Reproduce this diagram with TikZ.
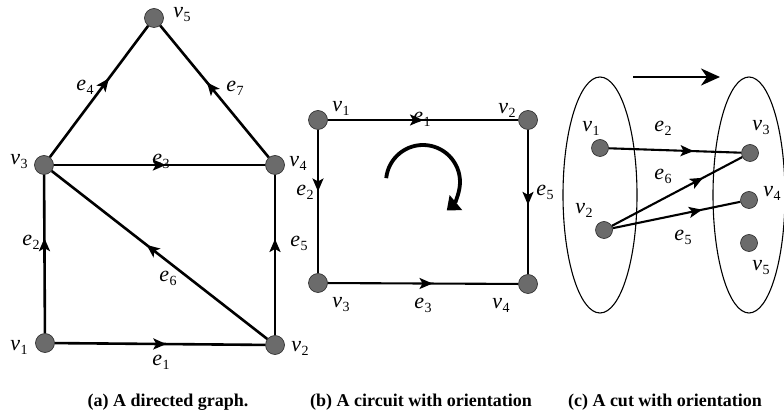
\documentclass[tikz,border=0pt]{standalone}
\usepackage{fontspec}
\setmainfont{Liberation Serif}
\usetikzlibrary{arrows.meta,decorations.markings,calc}
\newcommand{\lb}[2]{\textit{#1}\kern0.3pt\raisebox{-0.4ex}{\fontsize{14}{14}\selectfont #2}}
\begin{document}
\begin{tikzpicture}[x=1pt,y=-1pt,
 vert/.style={circle,draw=black!85,line width=0.6pt,fill=black!58,minimum size=19pt,inner sep=0},
 vsm/.style={vert,minimum size=17pt},
 lbl/.style={font=\fontsize{22}{22}\selectfont,inner sep=0},
 captxt/.style={font=\fontsize{18}{18}\selectfont\bfseries,inner sep=0},
 eda/.style={line width=2.6pt},
 edb/.style={line width=2.1pt},
 marr/.style={postaction={decorate,decoration={markings,mark=at position #1 with {\arrow{Stealth[length=13pt,width=11pt,inset=3pt]}}}}},
]
\useasboundingbox (0,0) rectangle (784,411);
\clip (0,0) rectangle (784,411);
% ---------- panel (a)
\node[vert] (a1) at (45,343) {};
\node[vert] (a2) at (275,345) {};
\node[vert] (a3) at (44,165) {};
\node[vert] (a4) at (275,165) {};
\node[vert] (a5) at (154,18) {};
\draw[eda,marr=0.53] (a1) -- (a2);
\draw[eda,marr=0.6] (a1) -- (a3);
\draw[eda,marr=0.53] (a3) -- (a4);
\draw[eda,marr=0.6] (a3) -- (a5);
\draw[eda,marr=0.6] (a2) -- (a4);
\draw[eda,marr=0.56] (a2) -- (a3);
\draw[eda,marr=0.57] (a4) -- (a5);
\node[lbl] (la1) at (19,347) {\lb{v}{1}};
\node[lbl] (la2) at (300,348) {\lb{v}{2}};
\node[lbl] (la3) at (19,162) {\lb{v}{3}};
\node[lbl] (la4) at (298,163) {\lb{v}{4}};
\node[lbl] (la5) at (182,15) {\lb{v}{5}};
\node[lbl] (le1) at (161,362) {\lb{e}{1}};
\node[lbl] (le2) at (31,242) {\lb{e}{2}};
\node[lbl] (le3) at (161,161) {\lb{e}{3}};
\node[lbl] (le4) at (85,87) {\lb{e}{4}};
\node[lbl] (le5) at (299,243) {\lb{e}{5}};
\node[lbl] (le6) at (168,278) {\lb{e}{6}};
\node[lbl] (le7) at (235,88) {\lb{e}{7}};
% ---------- panel (b)
\node[vert] (b1) at (318,120) {};
\node[vert] (b2) at (528,120) {};
\node[vert] (b3) at (318,283) {};
\node[vert] (b4) at (528,284) {};
\draw[edb,marr=0.5] (b1) -- (b2);
\draw[edb,marr=0.43] (b1) -- (b3);
\draw[edb,marr=0.52] (b2) -- (b4);
\draw[edb,marr=0.55] (b3) -- (b4);
\node[lbl] (lb1) at (341,108) {\lb{v}{1}};
\node[lbl] (lb2) at (507,110) {\lb{v}{2}};
\node[lbl] (lb3) at (341,305) {\lb{v}{3}};
\node[lbl] (lb4) at (501,305) {\lb{v}{4}};
\node[lbl] (lbe1) at (422,119) {\lb{e}{1}};
\node[lbl] (lbe2) at (305,192) {\lb{e}{2}};
\node[lbl] (lbe3) at (423,305) {\lb{e}{3}};
\node[lbl] (lbe5) at (545,192) {\lb{e}{5}};
\coordinate (rotc) at (423,182);
\draw[line width=3.8pt,-{Triangle[length=12pt,width=19pt]}] ($(rotc)+(186:37)$) arc[start angle=186,end angle=410,radius=37];
% ---------- panel (c)
\draw[line width=1.1pt] (600,195) ellipse [x radius=37,y radius=118];
\draw[line width=1.1pt] (749,195) ellipse [x radius=36,y radius=118];
\coordinate (ca) at (633,77);
\coordinate (cb) at (720,77);
\draw[line width=2.8pt,-{Stealth[length=19pt,width=17pt,inset=6pt]}] (ca) -- (cb);
\node[vsm] (c1) at (600,148) {};
\node[vsm] (c2) at (604,230) {};
\node[vsm] (c3) at (750,153) {};
\node[vsm] (c4) at (749,200) {};
\node[vsm] (c5) at (749,243) {};
\draw[edb,marr=0.64] (c1) -- (c3);
\draw[edb,marr=0.7] (c2) -- (c3);
\draw[edb,marr=0.7] (c2) -- (c4);
\node[lbl] (lc1) at (591,128) {\lb{v}{1}};
\node[lbl] (lc2) at (584,210) {\lb{v}{2}};
\node[lbl] (lc3) at (761,128) {\lb{v}{3}};
\node[lbl] (lc4) at (772,193) {\lb{v}{4}};
\node[lbl] (lc5) at (761,268) {\lb{v}{5}};
\node[lbl] (lce2) at (663,128) {\lb{e}{2}};
\node[lbl] (lce6) at (663,176) {\lb{e}{6}};
\node[lbl] (lce5) at (683,237) {\lb{e}{5}};
% ---------- captions
\node[captxt] (capa) at (168,402) {(a) A directed graph.};
\node[captxt] (capb) at (421,402) {(b) A circuit with orientation};
\node[captxt] (capc) at (665,402) {(c) A cut with orientation};
\end{tikzpicture}
\end{document}
